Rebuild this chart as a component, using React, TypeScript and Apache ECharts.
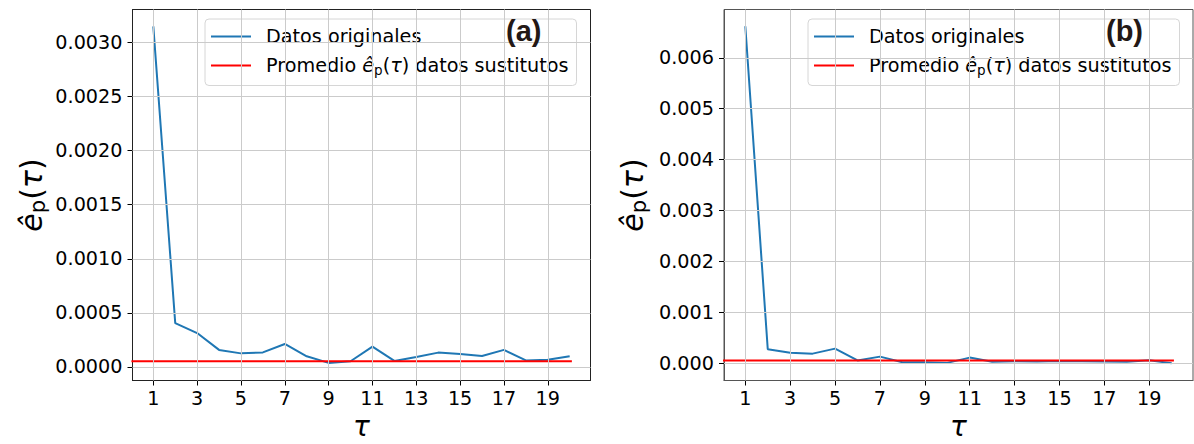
import React, { useEffect, useRef } from 'react';
import * as echarts from 'echarts';

const tau = [1, 2, 3, 4, 5, 6, 7, 8, 9, 10, 11, 12, 13, 14, 15, 16, 17, 18, 19, 20];
const originalA = [0.00315, 0.000405, 0.000313, 0.000157, 0.000125, 0.000134, 0.000212, 0.000098, 0.000037, 0.000052, 0.000187, 0.000055, 0.000092, 0.000132, 0.00012, 0.000101, 0.000157, 0.00006, 0.000067, 0.000098];
const originalB = [0.00662, 0.000274, 0.000207, 0.000188, 0.000286, 0.000055, 0.000129, 0.00002, 0.00002, 0.000006, 0.00011, 0.00003, 0.00004, 0.000035, 0.000045, 0.00004, 0.000035, 0.00003, 0.00006, 0.0];
const surrogateMeanA = 0.000052;
const surrogateMeanB = 0.000051;
const surrogateSpan = [0, 20.1];
const xTicks = [1, 3, 5, 7, 9, 11, 13, 15, 17, 19];
const yTicksA = [0, 0.0005, 0.001, 0.0015, 0.002, 0.0025, 0.003];
const yTicksB = [0, 0.001, 0.002, 0.003, 0.004, 0.005, 0.006];
const xRange = [0.05, 20.95];
const yRangeA = [-0.000126, 0.003306];
const yRangeB = [-0.00034, 0.00695];
const panelLabels = ['(a)', '(b)'];
const nameOrig = 'Datos originales';
const nameSurr = 'Promedio ê_p(τ) datos sustitutos';

const FONT = 'DejaVu Sans';
const FS = 19.2;

const legendRich = {
  n: { fontSize: FS, fontFamily: FONT, color: '#000', lineHeight: 22 },
  e: { fontSize: FS, fontFamily: FONT, fontStyle: 'italic', color: '#000', lineHeight: 22 },
  s: { fontSize: 13.5, fontFamily: FONT, color: '#000', lineHeight: 14, verticalAlign: 'bottom' },
};

const nameRich = {
  n: { fontSize: 30, fontFamily: FONT, color: '#000', lineHeight: 34 },
  e: { fontSize: 30, fontFamily: FONT, fontStyle: 'italic', color: '#000', lineHeight: 34 },
  s: { fontSize: 21, fontFamily: FONT, color: '#000', lineHeight: 22, verticalAlign: 'bottom' },
};

const xNameRich = {
  e: { fontSize: 28, fontFamily: FONT, fontStyle: 'italic', color: '#000', lineHeight: 28 },
};

function legendFormatter(name: string) {
  if (name === nameSurr) {
    return '{n|Promedio }{e|ê}{s|p}{n|(}{e|τ}{n|) datos sustitutos}';
  }
  return '{n|' + name + '}';
}

export default function App() {
  const ref = useRef<HTMLDivElement>(null);
  useEffect(() => {
    if (!ref.current) return;
    const chart = echarts.init(ref.current, null, { renderer: 'svg' });
    const grids = [
      { left: 132.5, top: 9.5, width: 458, height: 371, borderColor: '#222' },
      { left: 724, top: 9.5, width: 469, height: 371, borderColor: '#555' },
    ];
    const yTicks = [yTicksA, yTicksB];
    const yRanges = [yRangeA, yRangeB];
    const origs = [originalA, originalB];
    const means = [surrogateMeanA, surrogateMeanB];
    const decimals = [4, 3];
    const nameGaps = [84, 75];

    const option: any = {
      animation: false,
      grid: grids.map((g) => ({
        left: g.left, top: g.top, width: g.width, height: g.height,
        containLabel: false, outerBoundsMode: 'none',
        show: true, borderColor: g.borderColor, borderWidth: 1, backgroundColor: 'transparent',
      })),
      xAxis: grids.map((g, i) => ({
        type: 'value', gridIndex: i, min: xRange[0], max: xRange[1],
        name: '{e|τ}', nameLocation: 'middle', nameGap: 32,
        nameTextStyle: { rich: xNameRich },
        axisLine: { show: true, onZero: false, lineStyle: { color: g.borderColor, width: 1 } },
        axisTick: { show: true, length: 5, customValues: xTicks, lineStyle: { color: '#000' } },
        axisLabel: {
          customValues: xTicks, margin: 8, fontSize: FS, fontFamily: FONT, color: '#000',
          formatter: (v: number) => String(v),
        },
        splitLine: { show: false },
      })),
      yAxis: grids.map((g, i) => ({
        type: 'value', gridIndex: i, min: yRanges[i][0], max: yRanges[i][1],
        name: '{e|ê}{s|p}{n|(}{e|τ}{n|)}', nameLocation: 'middle', nameRotate: 90, nameGap: nameGaps[i],
        nameTextStyle: { rich: nameRich },
        axisLine: { show: true, onZero: false, lineStyle: { color: g.borderColor, width: 1 } },
        axisTick: { show: true, length: 5, customValues: yTicks[i], lineStyle: { color: '#000' } },
        axisLabel: {
          customValues: yTicks[i], margin: 10, fontSize: FS, fontFamily: FONT, color: '#000',
          formatter: (v: number) => v.toFixed(decimals[i]),
        },
        splitLine: { show: false },
      })),
      legend: grids.map((g, i) => ({
        orient: 'vertical', left: i === 0 ? 205 : 808, top: 19,
        data: [nameOrig, nameSurr], selectedMode: false,
        icon: 'rect', itemWidth: 40, itemHeight: 2, itemGap: 10,
        padding: [8, 8, 9, 6],
        backgroundColor: 'rgba(255,255,255,0.85)', borderColor: '#d6d6d6', borderWidth: 1, borderRadius: 4,
        formatter: legendFormatter,
        textStyle: { padding: [0, 0, 0, 10], rich: legendRich },
      })),
      series: [] as any[],
      graphic: grids.map((g, i) => ({
        type: 'text', left: i === 0 ? 506 : 1106, top: 16,
        style: { text: panelLabels[i], font: 'bold 29px "Liberation Sans", Arial, sans-serif', fill: '#231815' },
        z: 100,
      })),
    };

    grids.forEach((g, i) => {
      option.series.push({
        type: 'line', name: 'grid-' + i, xAxisIndex: i, yAxisIndex: i, data: [],
        silent: true, z: 1,
        markLine: {
          silent: true, symbol: ['none', 'none'], label: { show: false }, precision: 10,
          lineStyle: { color: '#cbcbcb', width: 1, type: 'solid' },
          data: [
            ...xTicks.map((v) => ({ xAxis: v })),
            ...yTicks[i].map((v) => ({ yAxis: v })),
          ],
        },
      });
      option.series.push({
        type: 'line', name: nameOrig, xAxisIndex: i, yAxisIndex: i,
        data: tau.map((t, k) => [t, origs[i][k]]),
        symbol: 'none', lineStyle: { color: '#1f77b4', width: 2 }, itemStyle: { color: '#1f77b4' },
        z: 3,
      });
      option.series.push({
        type: 'line', name: nameSurr, xAxisIndex: i, yAxisIndex: i,
        data: surrogateSpan.map((x) => [x, means[i]]),
        symbol: 'none', clip: true, lineStyle: { color: '#ff0000', width: 2 }, itemStyle: { color: '#ff0000' },
        z: 4,
      });
    });

    chart.setOption(option);
    return () => chart.dispose();
  }, []);

  return (
    <div
      ref={ref}
      style={{ position: 'absolute', left: 0, top: 0, width: 1194, height: 444, background: '#fff' }}
    />
  );
}
